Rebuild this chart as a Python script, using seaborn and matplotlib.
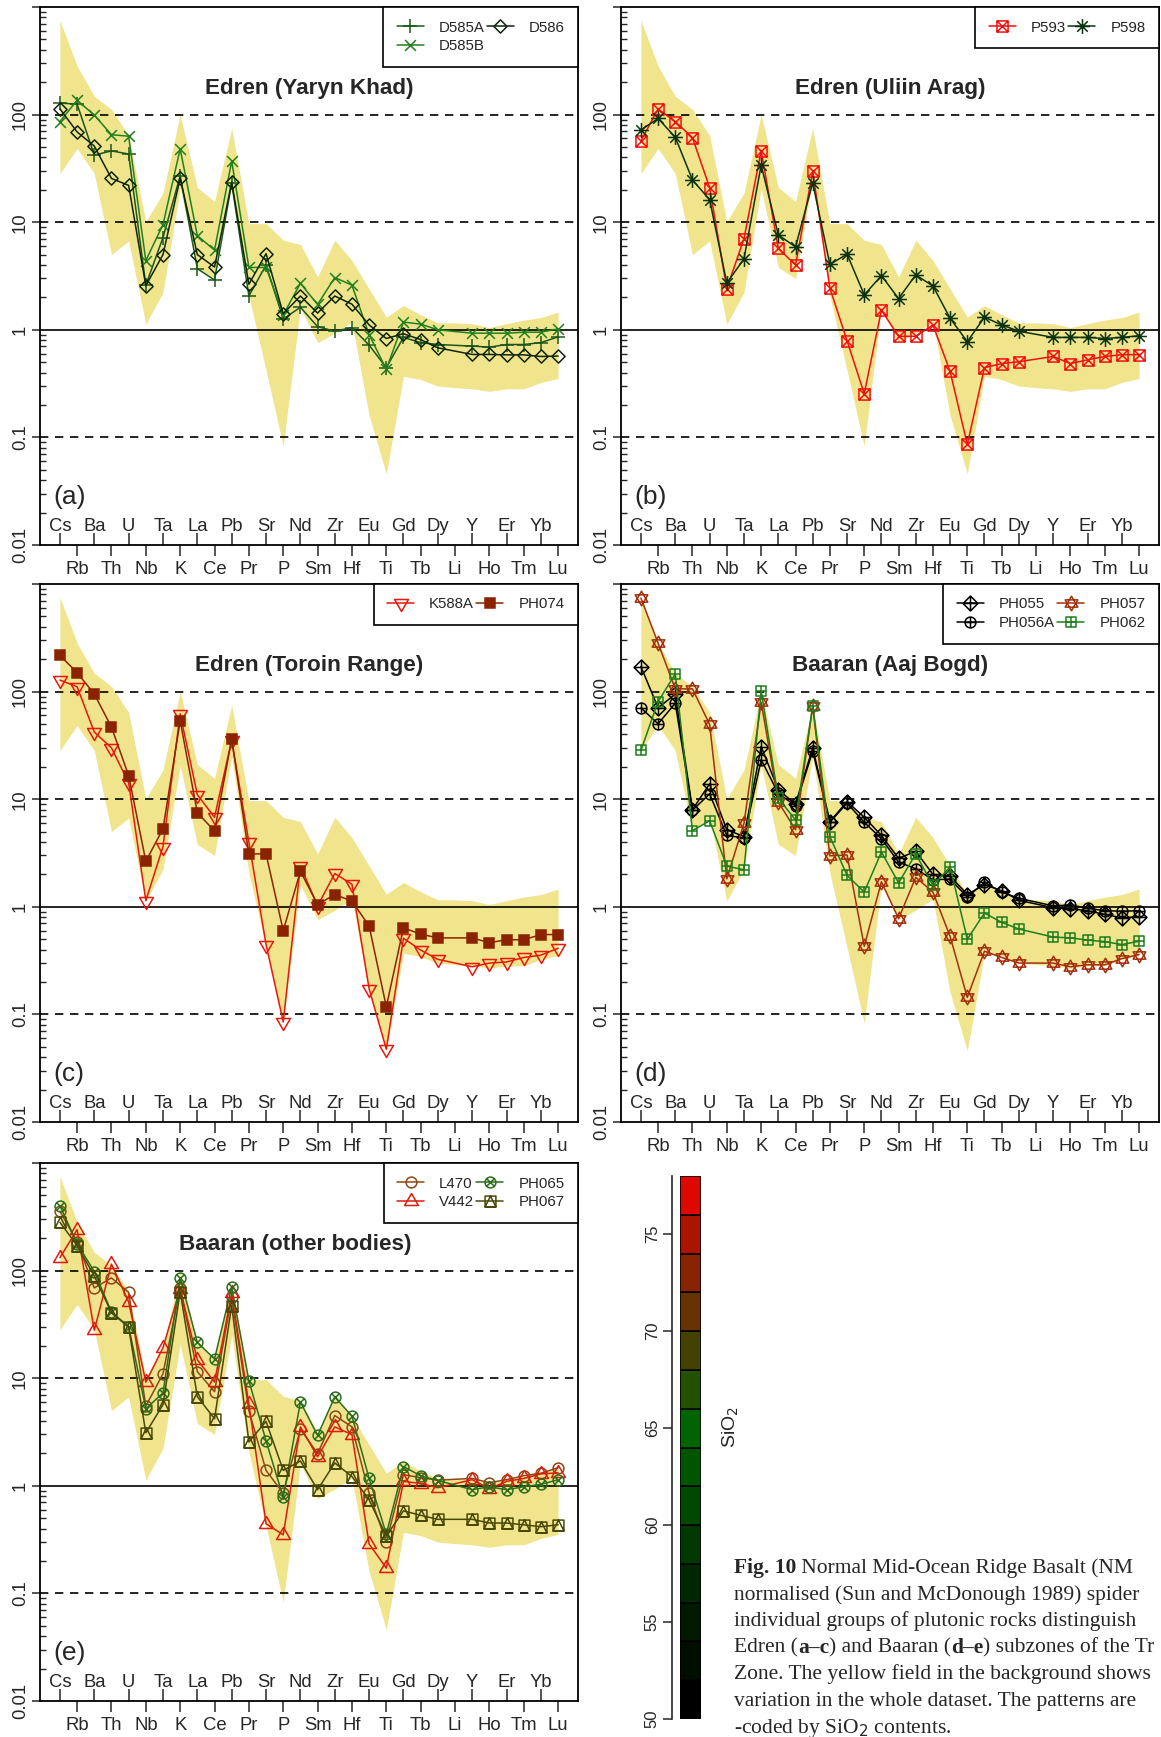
import numpy as np
import pandas as pd
import matplotlib
matplotlib.use("Agg")
import matplotlib.pyplot as plt
import matplotlib.transforms as mtransforms
import seaborn as sns
from matplotlib.path import Path
from matplotlib.ticker import LogLocator, NullFormatter

nan = np.nan

# ------------------------------------------------------------
# data (NMORB-normalised)
# ------------------------------------------------------------
elements = ["Cs", "Rb", "Ba", "Th", "U", "Nb", "Ta", "K", "La", "Ce", "Pb", "Pr",
            "Sr", "P", "Nd", "Sm", "Zr", "Hf", "Eu", "Ti", "Gd", "Tb", "Dy", "Li",
            "Y", "Ho", "Er", "Tm", "Yb", "Lu"]

field_hi = [751, 283, 148, 112, 64, 10.1, 18.7, 100, 21, 15.6, 74.5, 9.7, 9.7, 6.8, 6.2,
            3.1, 6.8, 4.4, 2.4, 1.31, 1.68, 1.38, 1.16, 1.16, 1.14, 1.05, 1.14, 1.23, 1.30, 1.46]
field_lo = [28.3, 48.6, 28.3, 5.0, 6.7, 1.13, 2.23, 20.6, 3.8, 3.0, 25, 2.06, 0.42, 0.083, 1.6,
            0.76, 0.93, 1.18, 0.16, 0.046, 0.37, 0.345, 0.30, 0.29, 0.283, 0.268, 0.283, 0.283, 0.324, 0.353]

d585a = [128, 125, 42, 46, 43, 2.6, 7.2, 27, 3.7, 2.9, 23, 2.06, 4.0, 1.26, 1.62, 1.07, 0.97, 1.05,
         0.72, 0.445, 0.85, 0.76, 0.73, nan, 0.705, 0.69, 0.73, 0.73, 0.76, 0.86]
d585b = [86, 136, 99, 65, 63, 4.4, 9.5, 48, 7.5, 5.5, 37, 3.8, 3.8, 1.38, 2.7, 1.72, 3.06, 2.6,
         0.9, 0.43, 1.18, 1.13, 1.0, nan, 0.93, 0.93, 0.93, 0.95, 0.95, 1.02]
d586 = [113, 69, 51, 25.5, 22, 2.57, 5.0, 25.7, 5.0, 3.83, 23.6, 2.65, 5.1, 1.41, 2.06, 1.43, 2.06,
        1.73, 1.11, 0.83, 0.92, 0.81, 0.68, nan, 0.59, 0.59, 0.585, 0.585, 0.565, 0.57]

p593 = [57, 113, 86, 61, 21, 2.41, 7.05, 46, 5.7, 4.0, 29.7, 2.45, 0.79, 0.255, 1.52, 0.87, 0.87,
        1.11, 0.41, 0.086, 0.445, 0.485, 0.505, nan, 0.565, 0.485, 0.526, 0.565, 0.587, 0.587]
p598 = [72, 92, 61.6, 24.7, 16.2, 2.72, 4.56, 34, 7.6, 5.9, 23.2, 4.05, 5.05, 2.11, 3.19, 1.95, 3.24,
        2.55, 1.28, 0.776, 1.31, 1.11, 0.97, nan, 0.85, 0.85, 0.85, 0.83, 0.85, 0.88]

k588a = [128, 111, 42, 30, 14.2, 1.14, 3.63, 62, 11, 6.8, 35.5, 4.0, 0.446, 0.085, 2.4, 1.02, 2.04,
         1.62, 0.173, 0.0475, 0.51, 0.396, 0.325, nan, 0.277, 0.30, 0.307, 0.338, 0.355, 0.412]
ph074 = [217, 150, 95, 46.8, 16.6, 2.65, 5.3, 53.5, 7.5, 5.06, 36, 3.1, 3.1, 0.60, 2.14, 1.05, 1.3,
         1.13, 0.663, 0.118, 0.637, 0.557, 0.514, nan, 0.514, 0.464, 0.494, 0.494, 0.552, 0.552]

ph055 = [171, 70.6, 94.6, 8.0, 13.9, 5.2, 4.5, 30.8, 12.2, 9.0, 30, 6.2, 9.5, 6.8, 4.6, 2.82, 3.28,
         2.0, 1.93, 1.3, 1.61, 1.41, 1.15, nan, 0.98, 0.96, 0.92, 0.85, 0.79, 0.81]
ph056a = [70.6, 50.2, 78, 7.9, 11.2, 4.6, 4.36, 23.3, 11.3, 8.7, 28, 6.1, 9.2, 6.1, 4.3, 2.6, 2.26,
          1.78, 1.81, 1.23, 1.69, 1.37, 1.2, nan, 1.02, 1.04, 0.97, 0.92, 0.91, 0.92]
ph057 = [740, 282, 106, 106, 49.5, 1.82, 5.98, 79.5, 9.4, 5.2, 73.5, 2.98, 3.03, 0.43, 1.71, 0.776,
         1.88, 1.37, 0.53, 0.144, 0.387, 0.338, 0.30, nan, 0.30, 0.277, 0.289, 0.289, 0.33, 0.36]
ph062 = [28.4, 80.8, 146, 5.1, 6.3, 2.39, 2.21, 100.7, 10.2, 6.4, 73.5, 4.5, 1.96, 1.37, 3.23, 1.67,
         3.1, 1.58, 2.35, 0.50, 0.875, 0.717, 0.622, nan, 0.523, 0.515, 0.49, 0.475, 0.446, 0.479]

l470 = [356, 185, 69, 85.5, 62.8, 5.5, 11, 69, 11.5, 7.5, 56.6, 5.0, 1.39, 0.85, 3.37, 1.99, 4.5,
        3.53, 0.85, 0.30, 1.27, 1.19, 1.13, nan, 1.17, 1.07, 1.14, 1.24, 1.31, 1.47]
v442 = [132, 240, 27.9, 115, 51.2, 9.2, 19.2, 68, 14.8, 9.2, 61.3, 5.76, 0.444, 0.35, 3.53, 1.86,
        3.53, 2.99, 0.288, 0.172, 1.1, 1.05, 0.96, nan, 1.14, 0.94, 1.1, 1.17, 1.29, 1.32]
ph065 = [401, 178, 98, 41.3, 30.2, 5.2, 7.3, 85.5, 21.5, 15.1, 70, 9.46, 2.62, 0.78, 6.0, 2.94, 6.7,
         4.44, 1.17, 0.356, 1.51, 1.24, 1.12, nan, 0.92, 0.98, 0.92, 0.98, 1.03, 1.14]
ph067 = [281, 171, 89, 40.7, 29.7, 3.11, 5.67, 63.8, 6.74, 4.2, 47.3, 2.56, 3.97, 1.39, 1.7, 0.92,
         1.63, 1.22, 0.74, 0.342, 0.585, 0.532, 0.488, nan, 0.488, 0.451, 0.451, 0.434, 0.417, 0.434]

# SiO2 colour scale
sio2_bins = [50, 52, 54, 56, 58, 60, 62, 64, 66, 68, 70, 72, 74, 76]
sio2_colors = ["#000000", "#000e00", "#001a00", "#002800", "#003800", "#004800", "#005600",
               "#006400", "#225200", "#444200", "#663300", "#882300", "#ac1400", "#dd0800"]

# ------------------------------------------------------------
# marker shapes (R pch symbols)
# ------------------------------------------------------------
MV, LN, CL = Path.MOVETO, Path.LINETO, Path.CLOSEPOLY


def seg(p, q):
    return Path([p, q], [MV, LN])


def poly(pts):
    return Path(pts + [pts[0]], [MV] + [LN] * (len(pts) - 1) + [CL])


sq = poly([(-1, -1), (1, -1), (1, 1), (-1, 1)])
dia = poly([(0, -1), (1, 0), (0, 1), (-1, 0)])
circ = Path.unit_circle()
tri_up = poly([(0, 1), (-0.866, -0.5), (0.866, -0.5)])
tri_dn = poly([(0, -1), (-0.866, 0.5), (0.866, 0.5)])
plus = [seg((-1, 0), (1, 0)), seg((0, -1), (0, 1))]
xx = [seg((-1, -1), (1, 1)), seg((-1, 1), (1, -1))]
xs = [seg((-.707, -.707), (.707, .707)), seg((-.707, .707), (.707, -.707))]

mk = {
    "plus": Path.make_compound_path(*plus),
    "x": Path.make_compound_path(*xx),
    "dia": dia,
    "sqx": Path.make_compound_path(sq, *xx),
    "ast": Path.make_compound_path(*plus, *xs),
    "tdn": tri_dn,
    "tup": tri_up,
    "diaplus": Path.make_compound_path(dia, *plus),
    "circplus": Path.make_compound_path(circ, *plus),
    "david": Path.make_compound_path(tri_up, tri_dn),
    "sqplus": Path.make_compound_path(sq, *plus),
    "circ": circ,
    "circx": Path.make_compound_path(circ, *xs),
    "sqtri": Path.make_compound_path(sq, poly([(-1, -1), (0, 1), (1, -1)])),
}

# (name, values, colour, marker, size, filled)
panels = [
    ("Edren (Yaryn Khad)", "(a)", 0.5, [
        ("D585A", d585a, "#1b571b", "plus", 10.5, False),
        ("D585B", d585b, "#22801f", "x", 7.8, False),
        ("D586", d586, "#0e250e", "dia", 9.5, False)]),
    ("Edren (Uliin Arag)", "(b)", 0.5, [
        ("P593", p593, "#f01010", "sqx", 8.0, False),
        ("P598", p598, "#0c330f", "ast", 10.7, False)]),
    ("Edren (Toroin Range)", "(c)", 0.5, [
        ("K588A", k588a, "#e8180c", "tdn", 11.5, False),
        ("PH074", ph074, "#8c2300", "s", 7.8, True)]),
    ("Baaran (Aaj Bogd)", "(d)", 0.5, [
        ("PH055", ph055, "#000000", "diaplus", 10.7, False),
        ("PH056A", ph056a, "#000000", "circplus", 7.8, False),
        ("PH057", ph057, "#a3300e", "david", 10.5, False),
        ("PH062", ph062, "#1e7e1e", "sqplus", 7.8, False)]),
    ("Baaran (other bodies)", "(e)", 0.474, [
        ("L470", l470, "#8a4814", "circ", 7.8, False),
        ("V442", v442, "#dc1c0c", "tup", 11.5, False),
        ("PH065", ph065, "#2c6e1c", "circx", 7.8, False),
        ("PH067", ph067, "#4a4806", "sqtri", 7.8, False)]),
]

# ------------------------------------------------------------
# figure
# ------------------------------------------------------------
sns.set_theme(style="ticks")
plt.rcParams["font.family"] = ["Liberation Sans", "DejaVu Sans"]
plt.rcParams["axes.linewidth"] = 1.3

W, H = 1161, 1737
fig = plt.figure(figsize=(W / 100, H / 100), dpi=100)


def rect(l, t, r, b):
    return [l / W, 1 - b / H, (r - l) / W, (b - t) / H]


boxes = [(40, 7, 578, 545), (621, 7, 1159, 545), (40, 584, 578, 1122),
         (621, 584, 1159, 1122), (40, 1163, 578, 1701)]

x = np.arange(1, len(elements) + 1)
lab_fs = 13.3

for (title, tag, tx, series), box in zip(panels, boxes):
    ax = fig.add_axes(rect(*box))
    ax.set_yscale("log")
    ax.set_ylim(0.01, 1000)
    ax.set_xlim(1 - 1.16, len(elements) + 1.16)

    ax.fill_between(x, field_lo, field_hi, color="#f0e48c", lw=0, zorder=0)
    for yv in [0.1, 10, 100]:
        ax.axhline(yv, color="black", lw=1.2, ls=(0, (5, 4)), zorder=1)
    ax.axhline(1, color="black", lw=1.2, zorder=1)

    for name, vals, col, m, ms, filled in series:
        df = pd.DataFrame({"x": x, "y": vals}).dropna()
        marker = m if m == "s" else mk[m]
        sns.lineplot(data=df, x="x", y="y", ax=ax, color=col, lw=1.1, marker=marker,
                     markersize=ms, markeredgecolor=col, markeredgewidth=1.1,
                     markerfacecolor=col if filled else "none", label=name,
                     legend=False, zorder=3)

    ax.set_xlabel("")
    ax.set_ylabel("")

    # x axis: even elements below, odd elements inside
    ax.set_xticks(x[1::2], labels=elements[1::2])
    ax.set_xticks(x[0::2], minor=True)
    ax.tick_params(axis="x", which="major", direction="out", length=8, width=1.1,
                   labelsize=lab_fs, pad=3.5)
    ax.tick_params(axis="x", which="minor", direction="in", length=8.3, width=1.1)
    trans = mtransforms.blended_transform_factory(ax.transData, ax.transAxes)
    for xi in x[0::2]:
        ax.text(xi, 0.0335, elements[xi - 1], transform=trans, ha="center", va="center",
                fontsize=lab_fs)

    # y axis
    ax.set_yticks([0.01, 0.1, 1, 10, 100, 1000], labels=["0.01", "0.1", "1", "10", "100", ""])
    ax.yaxis.set_minor_locator(LogLocator(base=10, subs=np.arange(2, 10), numticks=50))
    ax.yaxis.set_minor_formatter(NullFormatter())
    ax.tick_params(axis="y", which="major", direction="out", length=6, width=1.1,
                   labelsize=lab_fs, pad=2)
    ax.tick_params(axis="y", which="minor", direction="in", length=4, width=1.0)
    for lbl in ax.get_yticklabels():
        lbl.set_rotation(90)
        lbl.set_va("center")
    ax.set_ylim(0.01, 1000)

    for s in ax.spines.values():
        s.set_visible(True)
        s.set_color("black")
        s.set_linewidth(1.3)

    ax.text(tx, 0.848, title, transform=ax.transAxes, ha="center", va="center",
            fontsize=16.2, fontweight="bold")
    ax.text(0.0545, 0.09, tag, transform=ax.transAxes, ha="center", va="center",
            fontsize=19)

    leg = ax.legend(loc="upper right", ncol=2, frameon=True, fancybox=False,
                    borderaxespad=0, fontsize=10.8, handlelength=1.8,
                    handletextpad=1.0, columnspacing=0.15, labelspacing=0.3,
                    borderpad=0.9, framealpha=1)
    leg.get_frame().set_edgecolor("black")
    leg.get_frame().set_linewidth(1.2)
    leg.set_zorder(5)

# ------------------------------------------------------------
# SiO2 colour bar
# ------------------------------------------------------------
cax = fig.add_axes(rect(680, 1176, 701, 1719))
cax.bar(0, 2, bottom=sio2_bins, width=1, align="edge", color=sio2_colors,
        edgecolor="black", linewidth=1.1)
cax.set_xlim(0, 1)
cax.set_ylim(50, 78)
cax.set_xticks([])
cax.set_yticks([50, 55, 60, 65, 70, 75])
for side in ["top", "right", "bottom"]:
    cax.spines[side].set_visible(False)
cax.spines["left"].set_position(("outward", 6))
cax.spines["left"].set_linewidth(1.2)
cax.tick_params(axis="y", direction="out", length=6.5, width=1.1, labelsize=12, pad=2)
for lbl in cax.get_yticklabels():
    lbl.set_rotation(90)
    lbl.set_va("center")
fig.text(731 / W, 1 - 1427 / H, "SiO$_2$", rotation=90, ha="center", va="center",
         fontsize=14)

# ------------------------------------------------------------
# caption (cut at the right edge as in the source page)
# ------------------------------------------------------------
tax = fig.add_axes([0, 0, 1, 1])
tax.axis("off")
tax.set_xlim(0, W)
tax.set_ylim(H, 0)

caption = [
    [("Fig. 10", True), (" Normal Mid-Ocean Ridge Basalt (NM", False)],
    [("normalised (Sun and McDonough 1989) spider", False)],
    [("individual groups of plutonic rocks distinguish", False)],
    [("Edren (", False), ("a\u2013c", True), (") and Baaran (", False), ("d\u2013e", True),
     (") subzones of the Tr", False)],
    [("Zone. The yellow field in the background shows", False)],
    [("variation in the whole dataset. The patterns are", False)],
    [("-coded by SiO$_2$ contents.", False)],
]
cap_font = ["Liberation Serif", "DejaVu Serif"]
cap_fs = 15.5
for k, parts in enumerate(caption):
    yb = 1573 + k * 26.6
    prev = None
    for txt, bold in parts:
        fw = "bold" if bold else "normal"
        if prev is None:
            prev = tax.text(734, yb, txt, ha="left", va="baseline", fontsize=cap_fs,
                            fontweight=fw, family=cap_font)
        else:
            prev = tax.annotate(txt, xy=(1, 0), xycoords=prev, ha="left", va="bottom",
                                fontsize=cap_fs, fontweight=fw, family=cap_font)

fig.savefig("out.png", dpi=100)
